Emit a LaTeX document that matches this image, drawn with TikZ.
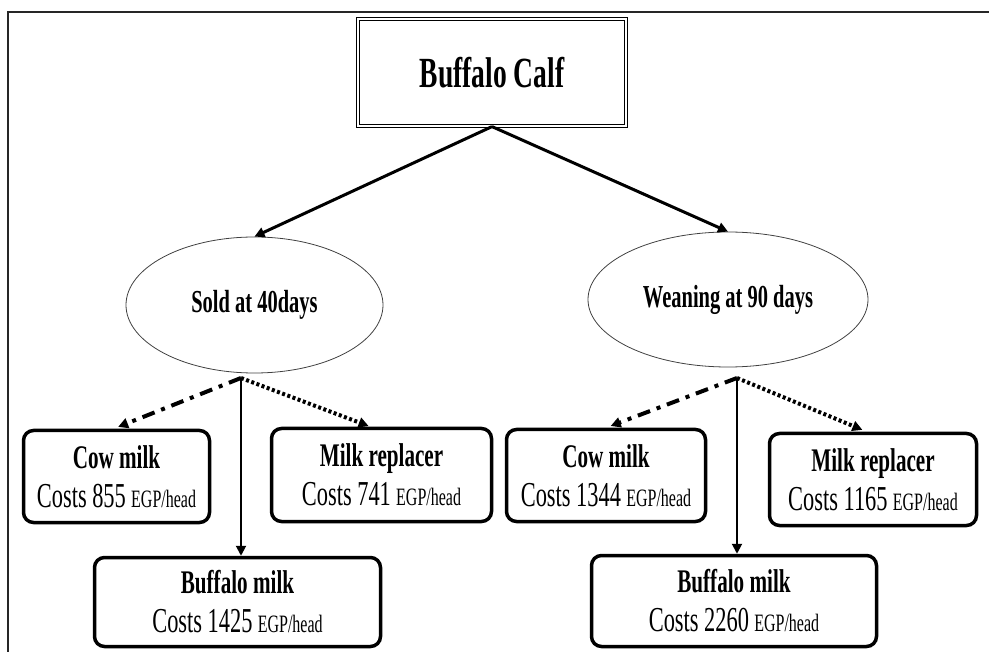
\documentclass[tikz,border=0pt]{standalone}
\usepackage{fontspec}
\setmainfont{Liberation Serif}[FakeStretch=0.64]
\usetikzlibrary{arrows.meta}
\usetikzlibrary{positioning}
\usetikzlibrary{shapes.geometric}

\newcommand{\costline}[1]{{\fontsize{35}{39}\selectfont Costs #1} {\fontsize{25}{25}\selectfont EGP/head}}

\tikzset{
  milkbox/.style={draw, line width=3.5pt, rounded corners=10pt, align=center,
    inner sep=0pt, font=\fontsize{33}{39}\selectfont},
  phase/.style={ellipse, draw=black!75, line width=0.8pt,
    font=\fontsize{32}{36}\selectfont\bfseries},
  dashdot/.style={line width=4pt, dash pattern=on 13pt off 7pt on 4pt off 7pt},
  dotline/.style={line width=4pt, dash pattern=on 3pt off 2.5pt},
}

\begin{document}
\begin{tikzpicture}[x=1pt,y=-1pt,>={Triangle[length=10pt,width=10pt]}]
  \useasboundingbox (0,0) rectangle (989,652);
  % frame
  \draw[line width=1.5pt, black!85] (8,652) -- (8,12) -- (989,12);

  \node[draw, double, double distance=2pt, line width=1.2pt,
    minimum width=268pt, minimum height=107pt,
    font=\fontsize{43}{44}\selectfont\bfseries] (calf) at (492,72.5) {Buffalo Calf};

  \node[phase, minimum width=257pt, minimum height=136pt] (sold) at (254.5,305) {Sold at 40days};
  \node[phase, minimum width=280pt, minimum height=135pt] (wean) at (728,299.5) {Weaning at 90 days};

  \node[milkbox, minimum width=186pt, minimum height=92pt] (cow_s) at (116.5,476.5)
    {{\bfseries Cow milk}\\\costline{855}};
  \node[milkbox, minimum width=220pt, minimum height=93pt] (rep_s) at (381.5,475)
    {{\bfseries Milk replacer}\\\costline{741}};
  \node[milkbox, minimum width=286pt, minimum height=89pt] (buf_s) at (237.5,602)
    {{\bfseries Buffalo milk}\\\costline{1425}};

  \node[milkbox, minimum width=199pt, minimum height=92pt] (cow_w) at (606,475.5)
    {{\bfseries Cow milk}\\\costline{1344}};
  \node[milkbox, minimum width=207pt, minimum height=92pt] (rep_w) at (873,479.5)
    {{\bfseries Milk replacer}\\\costline{1165}};
  \node[milkbox, minimum width=285pt, minimum height=91pt] (buf_w) at (734,601)
    {{\bfseries Buffalo milk}\\\costline{2260}};

  \coordinate (s_0) at (241,378);
  \coordinate (w_0) at (737,378);

  \path[->, line width=3pt]
  (calf.south) edge (sold.north)
  (calf.south) edge (wean.north);

  \path[->]
  (s_0) edge[dashdot, shorten >=5pt] ([xshift=-3pt]cow_s.north)
  (s_0) edge[line width=2pt] (s_0 |- buf_s.north)
  (s_0) edge[dotline, shorten >=2pt] ([xshift=-11pt]rep_s.north)
  (w_0) edge[dashdot, shorten >=5pt] (cow_w.north)
  (w_0) edge[line width=2pt] (w_0 |- buf_w.north)
  (w_0) edge[dotline, shorten >=5pt] ([xshift=-6pt]rep_w.north);
\end{tikzpicture}
\end{document}
